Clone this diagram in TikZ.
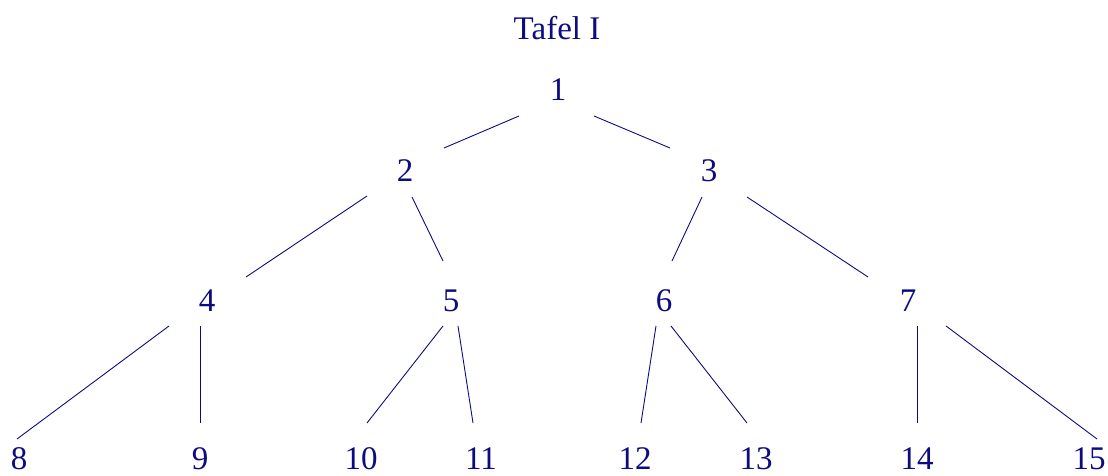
\documentclass[tikz,border=0pt]{standalone}
\usepackage{fontspec}
\setmainfont{Liberation Serif}
\usepackage{tikz}
\usetikzlibrary{calc}
\usepackage{xcolor}
\definecolor{tafelblue}{RGB}{12,12,128}

\begin{document}
\begin{tikzpicture}[x=1pt,y=-1pt,
    numlabel/.style={inner sep=0pt,anchor=center,text=tafelblue,font=\fontsize{33}{40}\selectfont},
    branch/.style={draw=tafelblue,line width=.9pt}]
  \useasboundingbox (0,0) rectangle (1108,476);
  \node[numlabel] (title) at (557,28){Tafel I};
  \foreach \n/\x/\y in {1/558/90,2/405/171,3/709/171,4/207/301,5/451/301,6/664/301,7/908/301,
      8/19/459,9/200/459,10/361/459,11/481/459,12/635/459,13/756/459,14/917/459,15/1089/459}{
    \node[numlabel] (n\n) at (\x,\y){\n};
  }
  \foreach \a/\b/\ax/\ay/\bx/\by in {1/2/-39/26/39/-23,1/3/36/26/-39/-23,
      2/4/-38/25/39/-24,2/5/7/26/-8/-40,3/6/-7/26/8/-40,3/7/38/26/-40/-24,
      4/8/-38/25/-2/-20,4/9/-7/25/0/-36,5/10/-8/25/6/-36,5/11/7/25/-8/-36,
      6/12/-8/25/6/-36,6/13/7/25/-9/-36,7/14/9/25/0/-36,7/15/38/25/8/-20}{
    \draw[branch] ($(n\a.center)+(\ax,\ay)$) -- ($(n\b.center)+(\bx,\by)$);
  }
\end{tikzpicture}
\end{document}
